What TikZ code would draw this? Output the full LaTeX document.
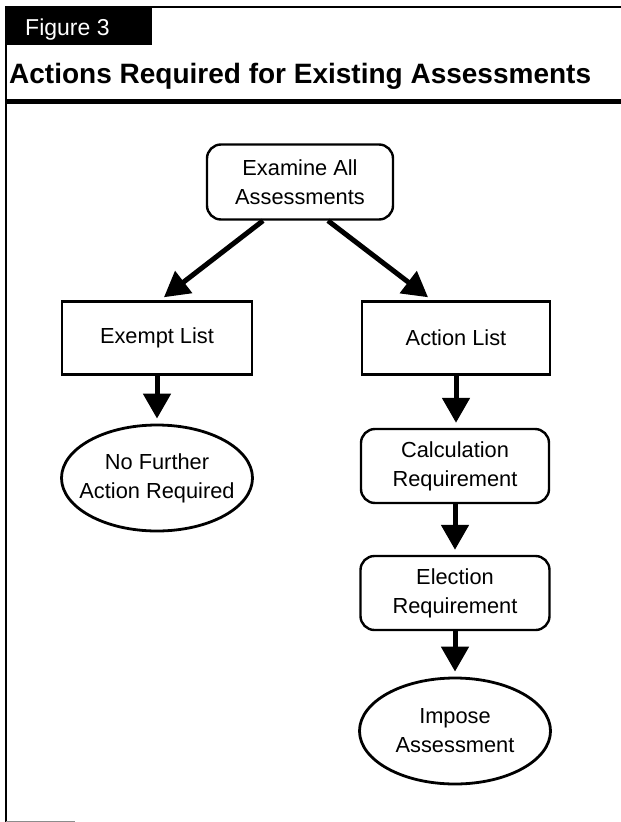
\documentclass[tikz,border=0pt]{standalone}
\usepackage{fontspec}
\setmainfont{Liberation Sans}
\usetikzlibrary{arrows.meta,shapes.geometric,calc}
\newcommand{\dgfont}{\fontsize{21.8}{29}\selectfont}
\begin{document}
\begin{tikzpicture}[x=1pt,y=-1pt,
  box/.style={draw, line width=2.4pt, minimum width=190pt, minimum height=73pt, inner sep=0pt, align=center, font=\dgfont},
  rbox/.style={box, rounded corners=14pt},
  oval/.style={draw, ellipse, line width=2.8pt, minimum width=191pt, minimum height=106pt, inner sep=0pt},
  flow/.style={line width=5pt, -{Triangle[length=25pt,width=27pt]}, shorten >=5pt},
  rule/.style={line width=1.5pt}
]
\useasboundingbox (0,0) rectangle (621,822);
% frame
\draw[rule] (5,7) -- (621,7);
\fill (5,7) rectangle (152,45);
\node[anchor=base west, text=white, font=\fontsize{23}{25}\selectfont, inner sep=0pt] (fig) at (25,35) {Figure 3};
\node[anchor=base west, font=\bfseries\fontsize{28}{30}\selectfont, inner sep=0pt] (title) at (9,83) {Actions Required for Existing Assessments};
\draw[line width=5pt] (5,101) -- (621,101);
\draw[rule] (6,45) -- (6,822);
\draw[line width=1pt, black!45] (6,821) -- (75,821);
% nodes
\node[rbox, minimum width=186pt, minimum height=75pt] (exam) at (300,182) {Examine All\\Assessments};
\node[box] (exempt) at (157,338) {Exempt List};
\node[box, minimum width=188pt] (action) at (456,338) {Action List};
\node[oval, label={[align=center, font=\dgfont]center:No Further\\Action Required}] (nf) at (157,478) {};
\node[rbox, minimum width=188pt, minimum height=74pt] (calc) at (455,466) {Calculation\\Requirement};
\node[rbox, minimum width=189pt, minimum height=74pt] (elect) at (455,593) {Election\\Requirement};
\node[oval, label={[align=center, font=\dgfont]center:Impose\\Assessment}] (imp) at (455,731) {};
% connectors
\draw[flow] ($(exam.south)+(-37,0)$) -- ($(exempt.north)+(3,0)$);
\draw[flow] ($(exam.south)+(28,0)$) -- ($(action.north)+(-24,0)$);
\draw[flow] (exempt.south) -- (exempt.south |- nf.north);
\draw[flow] (action.south) -- (action.south |- calc.north);
\draw[flow] (calc.south) -- (calc.south |- elect.north);
\draw[flow] (elect.south) -- (elect.south |- imp.north);
\end{tikzpicture}
\end{document}
